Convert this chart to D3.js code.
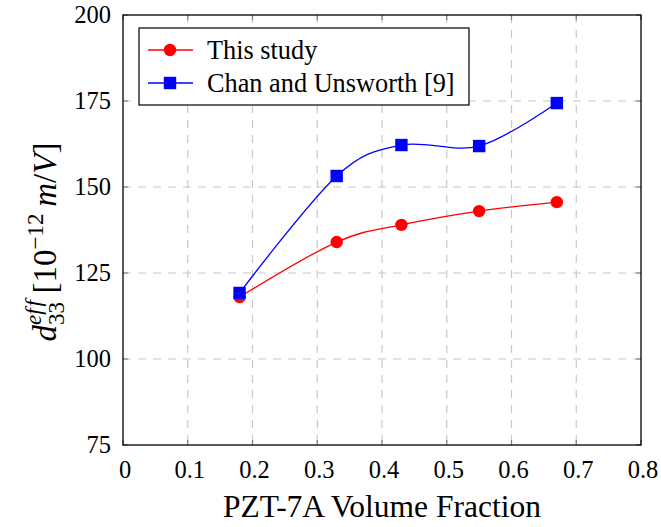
<!DOCTYPE html>
<html>
<head>
<meta charset="utf-8">
<script src="https://cdn.jsdelivr.net/npm/d3@7"></script>
</head>
<body style="margin:0; background:#fff">
<div id="chart"></div>
<script>
const fractions = [0.18, 0.33, 0.43, 0.55, 0.67];
const thisStudy = [118, 134, 139, 143, 145.6];
const chanUnsworth = [119.2, 153.2, 162.2, 161.9, 174.4];
const xTicks = [0, 0.1, 0.2, 0.3, 0.4, 0.5, 0.6, 0.7, 0.8];
const yTicks = [75, 100, 125, 150, 175, 200];
const seriesNames = ['This study', 'Chan and Unsworth [9]'];

(function () {
  const width = 661, height = 527;
  const margin = { top: 15, right: 20, bottom: 82, left: 123 };
  const innerWidth = width - margin.left - margin.right;
  const innerHeight = height - margin.top - margin.bottom;
  const SERIF = '"Liberation Serif"';

  const svg = d3.select('#chart').append('svg')
    .attr('width', width).attr('height', height)
    .style('display', 'block');
  const g = svg.append('g').attr('transform', `translate(${margin.left},${margin.top})`);

  const x = d3.scaleLinear().domain([0, 0.8]).range([0, innerWidth]);
  const y = d3.scaleLinear().domain([75, 200]).range([innerHeight, 0]);

  // grid
  const grid = g.append('g').attr('stroke', '#c8c8c8').attr('stroke-width', 1.2)
    .attr('stroke-dasharray', '8,7');
  grid.selectAll('line.v').data(xTicks.slice(1, -1)).join('line')
    .attr('x1', d => x(d)).attr('x2', d => x(d)).attr('y1', 0).attr('y2', innerHeight);
  grid.selectAll('line.h').data(yTicks.slice(1, -1)).join('line')
    .attr('class', 'h')
    .attr('y1', d => y(d)).attr('y2', d => y(d)).attr('x1', 0).attr('x2', innerWidth);

  // inner ticks on all sides
  const tk = g.append('g').attr('stroke', '#808080').attr('stroke-width', 1.2);
  xTicks.forEach(d => {
    tk.append('line').attr('x1', x(d)).attr('x2', x(d)).attr('y1', innerHeight).attr('y2', innerHeight - 5);
    tk.append('line').attr('x1', x(d)).attr('x2', x(d)).attr('y1', 0).attr('y2', 5);
  });
  yTicks.forEach(d => {
    tk.append('line').attr('y1', y(d)).attr('y2', y(d)).attr('x1', 0).attr('x2', 5);
    tk.append('line').attr('y1', y(d)).attr('y2', y(d)).attr('x1', innerWidth).attr('x2', innerWidth - 5);
  });

  // frame
  g.append('rect').attr('width', innerWidth).attr('height', innerHeight)
    .attr('fill', 'none').attr('stroke', '#000').attr('stroke-width', 1.3);

  // tick labels
  g.append('g').selectAll('text').data(xTicks).join('text')
    .style('font-family', SERIF)
    .attr('x', d => x(d) + 2).attr('y', innerHeight + 33)
    .attr('text-anchor', 'middle').attr('font-size', 24.5)
    .text(d => d === 0 ? '0' : d3.format('.1f')(d));
  g.append('g').selectAll('text').data(yTicks).join('text')
    .style('font-family', SERIF)
    .attr('x', -12).attr('y', d => y(d)).attr('dy', '0.34em')
    .attr('text-anchor', 'end').attr('font-size', 24.5)
    .text(d => d);

  // axis titles
  svg.append('text')
    .style('font-family', SERIF)
    .attr('x', 382).attr('y', 517)
    .attr('text-anchor', 'middle').attr('font-size', 31.5)
    .text('PZT-7A Volume Fraction');

  const yl = svg.append('text')
    .style('font-family', SERIF)
    .attr('transform', `translate(56,${margin.top + innerHeight / 2 + 12}) rotate(-90)`)
    .attr('text-anchor', 'middle').attr('font-size', 33);
  const ts = (txt) => yl.append('tspan').style('font-family', SERIF).text(txt);
  ts('d').style('font-style', 'italic');
  ts('33').attr('font-size', 23).attr('dy', 8);
  ts('ef\u200Af').attr('font-size', 23).style('font-style', 'italic').attr('dx', -23).attr('dy', -23);
  ts('\u2009[10').attr('dy', 15);
  ts('\u221212').attr('font-size', 23).attr('dy', -13);
  ts('\u2009m').attr('dy', 13).style('font-style', 'italic');
  ts('/');
  ts('V').style('font-style', 'italic');
  ts(']');

  // series
  const series = [
    { name: seriesNames[0], color: '#ff0000', marker: 'circle', values: thisStudy },
    { name: seriesNames[1], color: '#0000ff', marker: 'square', values: chanUnsworth }
  ];
  const line = d3.line()
    .x((d, i) => x(fractions[i])).y(d => y(d))
    .curve(d3.curveCardinal.tension(0));

  function drawMarker(sel, s, cx, cy) {
    if (s.marker === 'circle') {
      sel.append('circle').attr('cx', cx).attr('cy', cy).attr('r', 6.2).attr('fill', s.color);
    } else {
      sel.append('rect').attr('x', cx - 6.2).attr('y', cy - 6.2)
        .attr('width', 12.4).attr('height', 12.4).attr('fill', s.color);
    }
  }

  series.forEach(s => {
    g.append('path').datum(s.values)
      .attr('fill', 'none').attr('stroke', s.color).attr('stroke-width', 1.3)
      .attr('d', line);
    const mg = g.append('g');
    s.values.forEach((v, i) => drawMarker(mg, s, x(fractions[i]), y(v)));
  });

  // legend
  const lg = svg.append('g').attr('transform', 'translate(139,28)');
  lg.append('rect').attr('width', 330).attr('height', 77)
    .attr('fill', '#fff').attr('stroke', '#000').attr('stroke-width', 1.2);
  series.forEach((s, i) => {
    const cy = 22 + i * 33;
    lg.append('line').attr('x1', 9).attr('x2', 54).attr('y1', cy).attr('y2', cy)
      .attr('stroke', s.color).attr('stroke-width', 1.3);
    drawMarker(lg, s, 31, cy);
    lg.append('text').style('font-family', SERIF)
      .attr('x', 68).attr('y', cy).attr('dy', '0.33em')
      .attr('font-size', 26.3).text(s.name);
  });
})();
</script>
</body>
</html>
